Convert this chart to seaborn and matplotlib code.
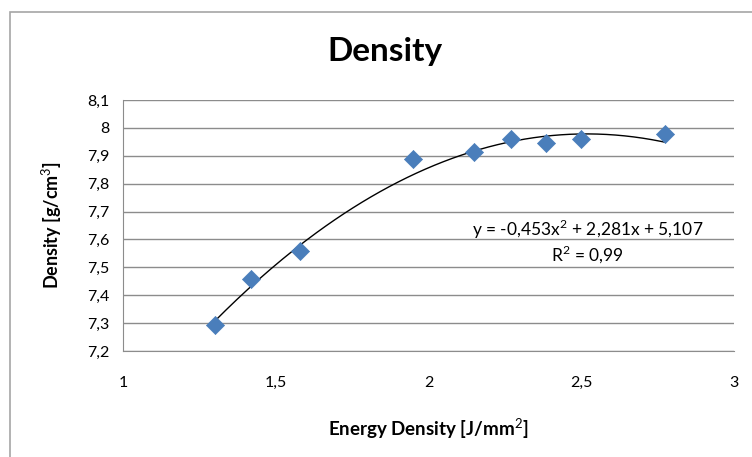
import numpy as np
import pandas as pd
import matplotlib
matplotlib.use("Agg")
import matplotlib.pyplot as plt
import seaborn as sns
from matplotlib.ticker import FuncFormatter, MultipleLocator
from matplotlib.patches import Rectangle

energy = [1.30, 1.42, 1.58, 1.95, 2.15, 2.27, 2.385, 2.50, 2.775]
density = [7.294, 7.459, 7.56, 7.888, 7.913, 7.96, 7.945, 7.96, 7.978]
coeffs = [-0.453, 2.281, 5.107]
eq_text = "y = -0,453x$^2$ + 2,281x + 5,107"
r2_text = "R$^2$ = 0,99"

df = pd.DataFrame({"energy": energy, "density": density})
xfit = np.linspace(min(energy), max(energy), 200)
fit = pd.DataFrame({"energy": xfit, "density": np.polyval(coeffs, xfit)})

sns.set_style("white")
plt.rcParams["font.family"] = ["Lato", "DejaVu Sans"]
plt.rcParams["mathtext.fontset"] = "custom"
plt.rcParams["mathtext.rm"] = "Lato"
plt.rcParams["mathtext.bf"] = "Lato:bold"
plt.rcParams["text.color"] = "black"
plt.rcParams["axes.labelcolor"] = "black"
plt.rcParams["xtick.color"] = "black"
plt.rcParams["ytick.color"] = "black"

fig = plt.figure(figsize=(7.52, 4.57), dpi=100)
ax = fig.add_axes([123/752, 1-351/457, (734-123)/752, (351-100)/457])

# outer chart border
fig.patches.append(Rectangle((10/752, -0.1), 1.2, 1-12/457+0.1, transform=fig.transFigure,
                             fill=False, edgecolor="#a6a6a6", linewidth=1.2))

sns.lineplot(data=fit, x="energy", y="density", ax=ax, color="black", linewidth=1.0)
sns.scatterplot(data=df, x="energy", y="density", ax=ax, marker="D", s=85,
                color="#4a7ebb", edgecolor="#4a7ebb", linewidth=0.5, zorder=3)

ax.set_xlim(1, 3)
ax.set_ylim(7.2, 8.1)
ax.xaxis.set_major_locator(MultipleLocator(0.5))
ax.yaxis.set_major_locator(MultipleLocator(0.1))
fmt = FuncFormatter(lambda v, p: f"{round(v, 2):g}".replace(".", ","))
ax.xaxis.set_major_formatter(fmt)
ax.yaxis.set_major_formatter(fmt)

ax.grid(axis="y", color="#8c8c8c", linewidth=1.0)
ax.set_axisbelow(True)
for side in ["right", "top"]:
    ax.spines[side].set_visible(False)
ax.spines["left"].set_color("#8c8c8c")
ax.spines["bottom"].set_color("#8c8c8c")
ax.tick_params(axis="y", length=0, pad=10, labelsize=11.5)
ax.tick_params(axis="x", length=0, pad=18, labelsize=11.5)

ax.set_xlabel("Energy Density [J/mm$^2$]", fontsize=13.5, fontweight="bold")
ax.set_ylabel("Density [g/cm$^3$]", fontsize=13, fontweight="bold")
ax.xaxis.set_label_coords(0.5, -0.259)
ax.yaxis.set_label_coords(-0.097, 0.5)

fig.text(385/752, 1-52/457, "Density", ha="center", va="center", fontsize=24, fontweight="bold")

ax.text(2.52, 7.636, eq_text, ha="center", va="center", fontsize=12.5)
ax.text(2.52, 7.546, r2_text, ha="center", va="center", fontsize=12.5)

plt.savefig("out.png", dpi=100)
